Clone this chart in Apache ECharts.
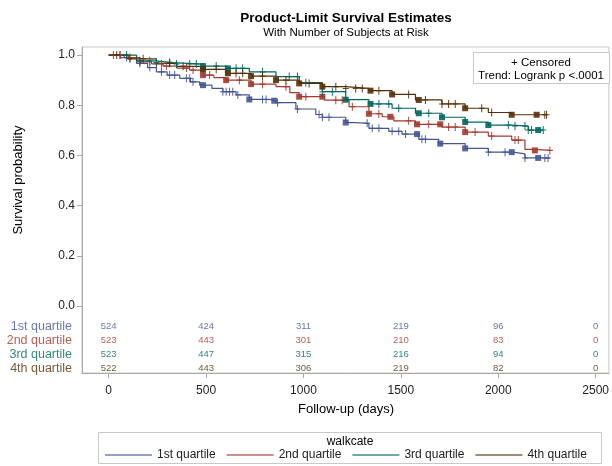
<!DOCTYPE html>
<html><head><meta charset="utf-8">
<script src="https://cdn.jsdelivr.net/npm/echarts@6/dist/echarts.min.js"></script>
<style>html,body{margin:0;padding:0;background:#fff}#c{width:612px;height:466px}</style>
</head><body><div id="c"></div>
<script>
// ---------- data ----------
const groupNames = ['1st quartile', '2nd quartile', '3rd quartile', '4th quartile'];

const q1Times = [0, 60, 143, 200, 245, 300, 365, 420, 467, 530, 586, 654, 722, 825, 859, 961, 1063, 1097, 1217, 1268, 1336, 1438, 1506, 1592, 1694, 1830, 1949, 2077, 2137, 2265];
const q1Surv  = [1.0, 0.99, 0.967, 0.95, 0.933, 0.92, 0.907, 0.893, 0.880, 0.867, 0.854, 0.841, 0.823, 0.818, 0.81, 0.785, 0.763, 0.752, 0.731, 0.728, 0.708, 0.696, 0.685, 0.664, 0.647, 0.628, 0.613, 0.606, 0.590, 0.590];

const q2Times = [0, 80, 160, 220, 279, 350, 416, 484, 540, 603, 731, 859, 930, 978, 1107, 1234, 1336, 1404, 1464, 1575, 1711, 1830, 1949, 2069, 2137, 2188, 2265];
const q2Surv  = [1.0, 0.99, 0.973, 0.965, 0.956, 0.948, 0.940, 0.920, 0.91, 0.900, 0.884, 0.874, 0.85, 0.834, 0.82, 0.794, 0.766, 0.754, 0.738, 0.724, 0.713, 0.693, 0.677, 0.661, 0.624, 0.620, 0.620];

const q3Times = [0, 143, 240, 330, 484, 603, 722, 859, 978, 1097, 1217, 1336, 1455, 1575, 1711, 1830, 1949, 2069, 2154, 2231];
const q3Surv  = [1.0, 0.977, 0.97, 0.964, 0.956, 0.947, 0.933, 0.914, 0.890, 0.854, 0.822, 0.805, 0.788, 0.768, 0.752, 0.733, 0.721, 0.717, 0.701, 0.701];

const q4Times = [0, 100, 245, 350, 484, 603, 731, 859, 978, 1097, 1217, 1336, 1455, 1575, 1711, 1830, 1949, 2069, 2248];
const q4Surv  = [1.0, 0.985, 0.967, 0.955, 0.943, 0.927, 0.916, 0.900, 0.887, 0.874, 0.867, 0.858, 0.843, 0.821, 0.805, 0.788, 0.771, 0.762, 0.762];

// censoring times ("+")
const q1Censor = [58, 92, 160, 211, 271, 313, 339, 399, 416, 433, 586, 603, 620, 637, 663, 790, 808, 867, 969, 1080, 1097, 1131, 1327, 1353, 1387, 1455, 1489, 1524, 1608, 1626, 1949, 2035, 2137, 2239, 2256];
const q2Censor = [24, 58, 109, 160, 245, 271, 296, 399, 433, 518, 671, 790, 910, 1012, 1166, 1199, 1251, 1387, 1540, 1643, 1745, 1779, 1881, 1966, 2086, 2103, 2265];
const q3Censor = [92, 160, 211, 245, 313, 348, 416, 450, 552, 654, 688, 790, 927, 969, 1012, 1097, 1148, 1387, 1438, 1489, 1643, 2052, 2086, 2137, 2154, 2171, 2231];
const q4Censor = [41, 109, 177, 313, 382, 552, 654, 688, 790, 910, 1029, 1166, 1217, 1268, 1302, 1387, 1540, 1626, 1711, 1745, 1779, 1915, 1966, 2239, 2248];

// dense mark clusters (drawn as squares)
const q1Square = [484, 722, 850, 1217, 1583, 1702, 1830, 2069, 2205];
const q2Square = [484, 603, 731, 978, 1097, 1336, 1446, 1583, 1702, 1830, 2188];
const q3Square = [484, 612, 1217, 1344, 1592, 1711, 1830, 1949, 2205];
const q4Square = [484, 612, 731, 859, 978, 1097, 1344, 1455, 1592, 1830, 2069, 2197];

// number at risk
const riskTimes = [0, 500, 1000, 1500, 2000, 2500];
const q1AtRisk = [524, 424, 311, 219, 96, 0];
const q2AtRisk = [523, 443, 301, 210, 83, 0];
const q3AtRisk = [523, 447, 315, 216, 94, 0];
const q4AtRisk = [522, 443, 306, 219, 82, 0];

const xTicks = [0, 500, 1000, 1500, 2000, 2500];
const yTicks = [0, 0.2, 0.4, 0.6, 0.8, 1.0];

// ---------- build ----------
const colors = ['#445694', '#A23A2E', '#01665E', '#543005'];
const allTimes = [q1Times, q2Times, q3Times, q4Times];
const allSurv = [q1Surv, q2Surv, q3Surv, q4Surv];
const allCensor = [q1Censor, q2Censor, q3Censor, q4Censor];
const allSquare = [q1Square, q2Square, q3Square, q4Square];
const allRisk = [q1AtRisk, q2AtRisk, q3AtRisk, q4AtRisk];

const X_MIN = -137, X_MAX = 2568, Y_MIN = -0.267, Y_MAX = 1.032;
const rowY = [-0.08, -0.136, -0.192, -0.248];
const FONT = 'Liberation Sans, Arial, sans-serif';

function survAt(T, S, t) {
  let v = S[0];
  for (let i = 0; i < T.length; i++) { if (T[i] <= t) v = S[i]; else break; }
  return v;
}
const plusPath = 'path://M-0.6,-4.5H0.6V-0.6H3.5V0.6H0.6V4.5H-0.6V0.6H-3.5V-0.6H-0.6Z';

const series = [];
groupNames.forEach((g, i) => {
  series.push({
    name: g, type: 'line', step: 'end', showSymbol: false, symbol: 'none',
    data: allTimes[i].map((t, k) => [t, allSurv[i][k]]),
    lineStyle: { width: 1.2, color: colors[i] }, itemStyle: { color: colors[i] },
    z: 2 + i * 0.1, silent: true
  });
});
groupNames.forEach((g, i) => {
  series.push({
    name: g + ' censored', type: 'scatter', symbol: plusPath, symbolSize: [6, 8],
    data: allCensor[i].map(t => [t, survAt(allTimes[i], allSurv[i], t)]),
    itemStyle: { color: colors[i], opacity: 0.9 }, z: 3, silent: true
  });
  series.push({
    name: g + ' cluster', type: 'scatter', symbol: 'rect', symbolSize: 6,
    data: allSquare[i].map(t => [t, survAt(allTimes[i], allSurv[i], t)]),
    itemStyle: { color: colors[i], opacity: 0.9 }, z: 3, silent: true
  });
  series.push({
    name: g + ' at risk', type: 'scatter', symbolSize: 0, silent: true, clip: false,
    data: riskTimes.map((t, k) => [t, rowY[i], allRisk[i][k]]),
    label: { show: true, position: 'inside', formatter: p => String(p.value[2]),
      color: colors[i], fontSize: 9.5, fontFamily: FONT }
  });
  series.push({
    name: g + ' row', type: 'scatter', symbolSize: 0, silent: true, clip: false,
    data: [[X_MIN, rowY[i], g]],
    label: { show: true, position: 'left', distance: 10, formatter: p => p.value[2],
      color: colors[i], fontSize: 12.5, fontFamily: FONT }
  });
});

const axisGray = '#a9a9a9';
const option = {
  animation: false,
  grid: { left: 82, right: 1, top: 47, bottom: 93, show: true, borderColor: '#c8c8c8', borderWidth: 1 },
  xAxis: {
    type: 'value', min: X_MIN, max: X_MAX,
    axisLine: { show: true, onZero: false, lineStyle: { color: axisGray } },
    axisTick: { show: true, length: 5, customValues: xTicks, lineStyle: { color: axisGray } },
    axisLabel: { customValues: xTicks, formatter: v => String(v), fontSize: 12, color: '#222', margin: 12, fontFamily: FONT },
    splitLine: { show: false }
  },
  yAxis: {
    type: 'value', min: Y_MIN, max: Y_MAX,
    axisLine: { show: true, onZero: false, lineStyle: { color: axisGray } },
    axisTick: { show: true, length: 5, customValues: yTicks, lineStyle: { color: axisGray } },
    axisLabel: { customValues: yTicks, formatter: v => v.toFixed(1), fontSize: 12, color: '#222', margin: 7, fontFamily: FONT },
    splitLine: { show: false }
  },
  legend: {
    data: groupNames, left: 105, top: 449, itemWidth: 47, itemHeight: 1.5, itemGap: 11, padding: 0,
    icon: 'rect', itemStyle: { opacity: 0.75 },
    textStyle: { fontSize: 12, color: '#222', fontFamily: FONT, lineHeight: 12 }, selectedMode: false
  },
  graphic: [
    { type: 'text', x: 346, y: 18, style: { text: 'Product-Limit Survival Estimates', font: 'bold 13.5px ' + FONT, fill: '#000', textAlign: 'center', textVerticalAlign: 'middle' } },
    { type: 'text', x: 346, y: 33, style: { text: 'With Number of Subjects at Risk', font: '11.5px ' + FONT, fill: '#000', textAlign: 'center', textVerticalAlign: 'middle' } },
    { type: 'text', x: 18, y: 180, rotation: Math.PI / 2, style: { text: 'Survival probability', font: '13px ' + FONT, fill: '#000', textAlign: 'center', textVerticalAlign: 'middle' } },
    { type: 'text', x: 346, y: 409, style: { text: 'Follow-up (days)', font: '13px ' + FONT, fill: '#000', textAlign: 'center', textVerticalAlign: 'middle' } },
    { type: 'rect', shape: { x: 473.5, y: 52.5, width: 136, height: 31 }, style: { fill: '#fff', stroke: '#c8c8c8', lineWidth: 1 }, z: 10 },
    { type: 'text', x: 541, y: 63, z: 11, style: { text: '+ Censored', font: '11.5px ' + FONT, fill: '#000', textAlign: 'center', textVerticalAlign: 'middle' } },
    { type: 'text', x: 541, y: 76, z: 11, style: { text: 'Trend: Logrank p <.0001', font: '11.5px ' + FONT, fill: '#000', textAlign: 'center', textVerticalAlign: 'middle' } },
    { type: 'rect', shape: { x: 98.5, y: 432.5, width: 503, height: 31 }, style: { fill: 'none', stroke: '#c8c8c8', lineWidth: 1 } },
    { type: 'text', x: 350, y: 442, style: { text: 'walkcate', font: '12px ' + FONT, fill: '#000', textAlign: 'center', textVerticalAlign: 'middle' } }
  ],
  series: series
};
const chart = echarts.init(document.getElementById('c'), null, { renderer: 'canvas' });
chart.setOption(option);
</script></body></html>
